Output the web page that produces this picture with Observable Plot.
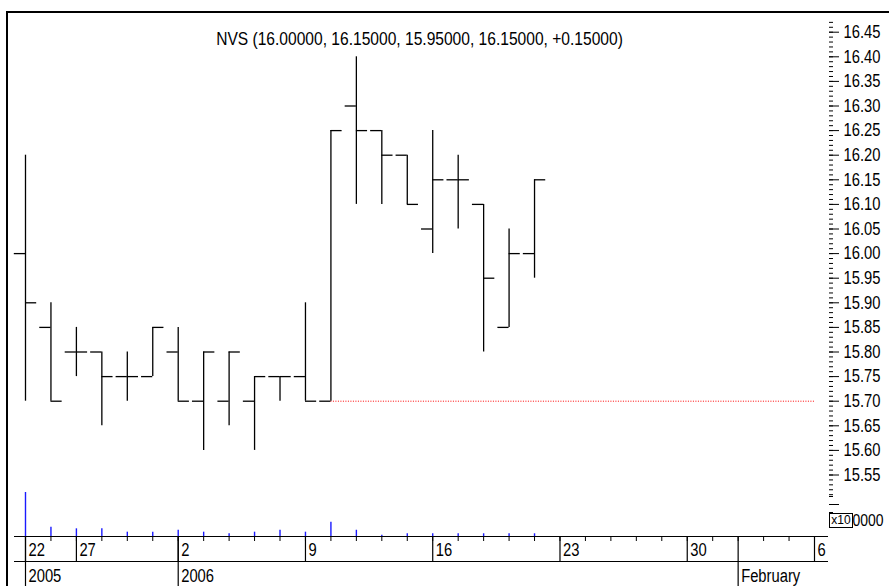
<!DOCTYPE html>
<html><head><meta charset="utf-8">
<script src="https://cdn.jsdelivr.net/npm/d3@7"></script>
<script src="https://cdn.jsdelivr.net/npm/@observablehq/plot@0.6"></script>
<style>
html,body{margin:0;padding:0;background:#fff;}
#chart{position:relative;width:889px;height:586px;overflow:hidden;background:#fff;}
#chart svg{position:absolute;left:0;}
#border{position:absolute;left:6px;top:11px;width:1000px;height:1000px;border-left:2px solid #000;border-top:2px solid #000;}
#title{position:absolute;left:0;width:839px;top:29px;text-align:center;font-size:19px;line-height:19px;white-space:nowrap;color:#000;}
#x10{position:absolute;left:829px;top:513px;width:24px;height:15px;box-sizing:border-box;border:1px solid #000;font-size:12px;line-height:13px;text-align:center;background:#fff;}
</style></head>
<body><div id="chart"><div id="border"></div></div>
<script>
// ---- data ----
const symbol = "NVS";
const open   = [16.00,15.85,15.80,15.80,15.75,15.75,15.80,15.70,15.70,15.70,15.75,15.75,15.70,16.30,16.25,16.20,16.05,16.15,16.10,15.85,16.00];
const high   = [16.20,15.90,15.85,15.80,15.80,15.85,15.85,15.80,15.80,15.75,15.75,15.90,16.25,16.40,16.25,16.20,16.25,16.20,16.10,16.05,16.15];
const low    = [15.70,15.70,15.75,15.65,15.70,15.75,15.70,15.60,15.65,15.60,15.70,15.70,15.70,16.10,16.10,16.10,16.00,16.05,15.80,15.85,15.95];
const close  = [15.90,15.70,15.80,15.75,15.75,15.85,15.70,15.80,15.80,15.75,15.75,15.70,16.25,16.25,16.20,16.10,16.15,16.15,15.95,16.00,16.15];
const volume = [2750000,580000,480000,480000,270000,270000,390000,270000,170000,270000,390000,270000,890000,390000,80000,170000,170000,170000,170000,170000,170000];

// time axis: trading-day slots 0..31
const slots = [0,1,2,3,4,5,6,7,8,9,10,11,12,13,14,15,16,17,18,19,20,21,22,23,24,25,26,27,28,29,30,31];
const dayTicks = [
  {slot:0,label:"22"},{slot:2,label:"27"},{slot:6,label:"2"},{slot:11,label:"9"},
  {slot:16,label:"16"},{slot:21,label:"23"},{slot:26,label:"30"},{slot:31,label:"6"}
];
const periodTicks = [{slot:0,label:"2005"},{slot:6,label:"2006"},{slot:28,label:"February"}];

// price axis
const priceTicks = [15.55,15.60,15.65,15.70,15.75,15.80,15.85,15.90,15.95,16.00,16.05,16.10,16.15,16.20,16.25,16.30,16.35,16.40,16.45];
const priceMinorTicks = d3.range(1551, 1648).map(v => v / 100);
const refLine = [{price: 15.70, from: 12, to: 31}];

// volume axis
const volumeTicks = [1000000];
const volumeTickLabels = ["0000"];
const volumeMajorTicks = [2000000];
const volumeMinorTicks = [1500000, 2500000];

// ---- font ----
function hasFont(name) {
  const c = document.createElement("canvas").getContext("2d");
  const s = "0123456789 NVS February";
  c.font = "40px monospace"; const a = c.measureText(s).width;
  c.font = `40px '${name}', monospace`; const b = c.measureText(s).width;
  return Math.abs(a - b) > 0.5;
}
const narrow = hasFont("Liberation Sans Narrow");
const FONT = narrow ? "'Liberation Sans Narrow', 'Liberation Sans', Arial, sans-serif" : "'Liberation Sans', Arial, sans-serif";
const SQUEEZE = 0.82;

// ---- build ----
const bars = open.map((o, i) => ({i, open: o, high: high[i], low: low[i], close: close[i], volume: volume[i]}));
const last = bars[bars.length - 1], prev = bars[bars.length - 2];
const chg = last.close - prev.close;
const titleText = `${symbol} (${last.open.toFixed(5)}, ${last.high.toFixed(5)}, ${last.low.toFixed(5)}, ${last.close.toFixed(5)}, ${chg >= 0 ? "+" : ""}${chg.toFixed(5)})`;

const X = {domain: [-0.432, 31.55], axis: null};
const M = {marginLeft: 14, marginRight: 61};
const TICK = 0.44;
const ink = "#000";
const baseStyle = {background: "transparent", fontFamily: FONT, overflow: "visible", color: "#000"};

const pricePlot = Plot.plot({
  width: 889, height: 536, marginTop: 7.1, marginBottom: 36.9, ...M,
  x: X,
  y: {domain: [15.50, 16.50], axis: null},
  style: baseStyle,
  marks: [
    Plot.ruleY(refLine, {y: "price", x1: "from", x2: "to", stroke: "#ff0000", strokeWidth: 1, strokeDasharray: "1,1.5"}),
    Plot.ruleX(bars, {x: "i", y1: "low", y2: "high", stroke: ink, strokeWidth: 1.3}),
    Plot.ruleY(bars, {y: "open", x1: d => d.i - TICK, x2: "i", stroke: ink, strokeWidth: 1.3}),
    Plot.ruleY(bars, {y: "close", x1: "i", x2: d => d.i + TICK, stroke: ink, strokeWidth: 1.3}),
    Plot.axisY(priceMinorTicks, {anchor: "right", tickSize: 4, tickFormat: () => "", label: null, strokeWidth: 1}),
    Plot.axisY(priceTicks, {anchor: "right", tickSize: 10, tickPadding: 5, tickFormat: d => d.toFixed(2), fontSize: 18, label: null, strokeWidth: 1})
  ]
});

const volumePlot = Plot.plot({
  width: 889, height: 536, marginTop: 488, marginBottom: 0, ...M,
  x: X,
  y: {domain: [0, 3000000], axis: null},
  style: baseStyle,
  marks: [
    Plot.ruleX(bars, {x: "i", y: "volume", stroke: "#1a1aff", strokeWidth: 1.4}),
    Plot.axisY(volumeMinorTicks, {anchor: "right", tickSize: 4, tickFormat: () => "", label: null}),
    Plot.axisY(volumeMajorTicks, {anchor: "right", tickSize: 10, tickFormat: () => "", label: null}),
    Plot.axisY(volumeTicks, {anchor: "right", tickSize: 0, tickPadding: 24, textAnchor: "start", fontSize: 17, label: null,
      tickFormat: d => volumeTickLabels[volumeTicks.indexOf(d)]})
  ]
});

const timePlot = Plot.plot({
  width: 889, height: 50, marginTop: 0, marginBottom: 0, ...M,
  x: X,
  y: {domain: [0, 50], range: [0, 50], axis: null},
  style: baseStyle,
  marks: [
    Plot.ruleY([0, 25], {stroke: ink, strokeWidth: 1.2}),
    Plot.ruleX(slots, {x: d => d, y1: 0, y2: 5, stroke: ink, strokeWidth: 1}),
    Plot.ruleX(dayTicks, {x: "slot", y1: 0, y2: 25, stroke: ink, strokeWidth: 1.2}),
    Plot.ruleX(periodTicks, {x: "slot", y1: 0, y2: 50, stroke: ink, strokeWidth: 1.2}),
    Plot.text(dayTicks, {x: "slot", y: 19, text: "label", textAnchor: "start", lineAnchor: "bottom", dx: 3, fontSize: 18, fill: ink}),
    Plot.text(periodTicks, {x: "slot", y: 45, text: "label", textAnchor: "start", lineAnchor: "bottom", dx: 3, fontSize: 18, fill: ink})
  ]
});

const chart = document.getElementById("chart");
pricePlot.style.top = "0px";
volumePlot.style.top = "0px";
timePlot.style.top = "536px";
chart.appendChild(pricePlot);
chart.appendChild(volumePlot);
chart.appendChild(timePlot);

const title = document.createElement("div");
title.id = "title";
title.textContent = titleText;
title.style.fontFamily = FONT;
if (!narrow) { title.style.transform = `scaleX(${SQUEEZE})`; title.style.transformOrigin = "419.5px 0"; }
chart.appendChild(title);

const box = document.createElement("div");
box.id = "x10";
box.textContent = "x10";
box.style.fontFamily = FONT;
chart.appendChild(box);

if (!narrow) {
  chart.querySelectorAll("svg text").forEach(t => {
    if (!t.textContent) return;
    const L = t.getComputedTextLength();
    if (L > 0) { t.setAttribute("textLength", (L * SQUEEZE).toFixed(2)); t.setAttribute("lengthAdjust", "spacingAndGlyphs"); }
  });
}
</script>
</body></html>
